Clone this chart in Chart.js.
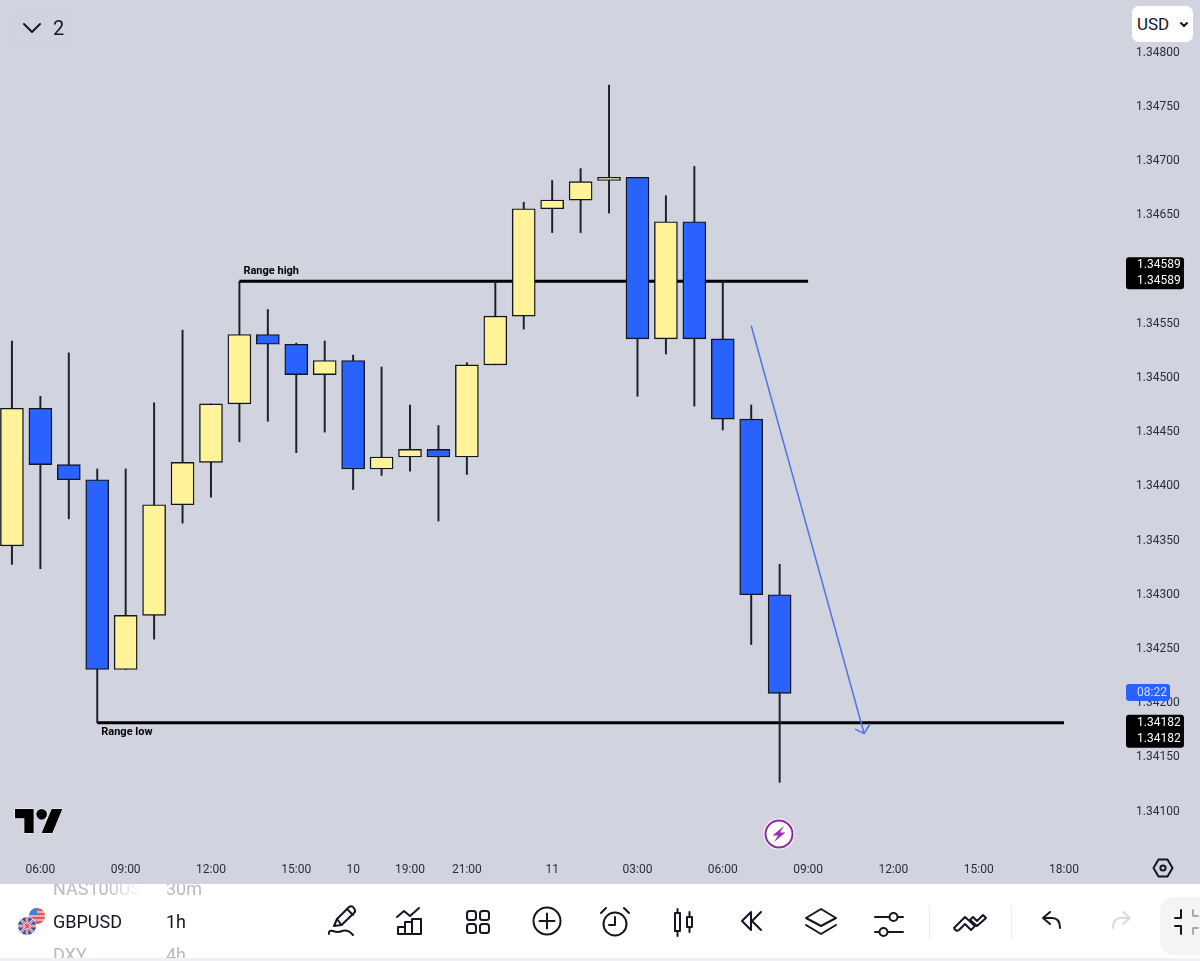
<!DOCTYPE html>
<html>
<head>
<meta charset="utf-8">
<title>GBPUSD 1h</title>
<script src="https://cdn.jsdelivr.net/npm/chart.js@4"></script>
<style>
  html, body { margin: 0; padding: 0; width: 1200px; height: 961px; overflow: hidden; background: #d1d4de; font-family: Roboto, sans-serif; color: #131722; }
  #chart { position: absolute; left: 0; top: 0; }
  .pill { position: absolute; box-sizing: border-box; }
  #interval-pill { left: 10px; top: 10px; width: 60px; height: 36px; border: 1px solid #cdd0da; border-radius: 5px; font-size: 20px; line-height: 34px; }
  #interval-pill span { position: absolute; left: 42px; }
  #currency-pill { left: 1132px; top: 6px; width: 61px; height: 36px; background: #fff; border-radius: 7px; font-size: 17px; line-height: 36px; padding-left: 5px; }
  #toolbar { position: absolute; left: 0; top: 884px; width: 1200px; height: 74px; background: #fff; overflow: hidden; }
  #strip { position: absolute; left: 0; top: 958px; width: 1200px; height: 3px; background: #eff0f3; }
  .row { position: absolute; font-size: 18px; line-height: 22px; white-space: nowrap; }
  .dim { color: #b9babf; }
  .fade { width: 88px; overflow: hidden; -webkit-mask-image: linear-gradient(to right, #000 60%, transparent 100%); mask-image: linear-gradient(to right, #000 60%, transparent 100%); }
  svg { position: absolute; overflow: visible; }
  .ico { fill: none; stroke: #131722; stroke-width: 2; stroke-linecap: round; stroke-linejoin: round; }
  .sep { position: absolute; top: 21px; width: 1px; height: 34px; background: #eceded; }
  #full-pill { position: absolute; left: 1160px; top: 13px; width: 60px; height: 58px; background: #f4f4f5; border-radius: 14px; }
</style>
</head>
<body>
<canvas id="chart" width="1200" height="884"></canvas>

<div id="interval-pill" class="pill">
  <svg style="left:11px;top:11px" width="20" height="12"><path class="ico" stroke-width="2.4" d="M2 2 L10 10 L18 2"/></svg>
  <span>2</span>
</div>
<div id="currency-pill" class="pill">USD
  <svg style="left:48px;top:16px" width="8" height="5"><path class="ico" d="M1 1 L4 4 L7 1"/></svg>
</div>

<svg style="left:15px;top:809px" width="48" height="24" viewBox="0 4 36 18">
  <g fill="#000" stroke="#fff" stroke-width="0.7" paint-order="stroke">
    <path d="M14 22H7V11H0V4h14v18z"/>
    <path d="M28 22h-8l7.5-18h8L28 22z"/>
    <circle cx="20" cy="8" r="4"/>
  </g>
</svg>

<svg style="left:763px;top:818px" width="32" height="32">
  <circle cx="16" cy="16" r="15.5" fill="#fff"/>
  <circle cx="16" cy="16" r="13.5" fill="#fff" stroke="#8e2a9c" stroke-width="2"/>
  <path d="M21 8 L9.5 17.5 L15 17.5 L11 24 L22.5 14.5 L17 14.5 Z" fill="#9c2fb0"/>
</svg>

<svg style="left:1153px;top:858px" width="20" height="20"><path class="ico" stroke-width="1.6" d="M5.5 1.5 H14.5 L19.5 10 L14.5 18.5 H5.5 L0.5 10 Z"/><circle class="ico" stroke-width="1.6" cx="10" cy="10" r="2.6"/></svg>

<div id="toolbar">
  <div class="row dim fade" style="left:53px;top:-6px">NAS100USD</div>
  <div class="row dim" style="left:166px;top:-6px">30m</div>
  <div class="row" style="left:53px;top:27px">GBPUSD</div>
  <div class="row" style="left:166px;top:27px">1h</div>
  <div class="row dim" style="left:53px;top:60px">DXY</div>
  <div class="row dim" style="left:166px;top:60px">4h</div>

  <svg style="left:17px;top:23px" width="30" height="30">
    <circle cx="20" cy="9" r="8" fill="#e8525a"/>
    <path d="M12 9 H28 M13 5 H27 M13 13 H27" stroke="#fff" stroke-width="1.2"/>
    <path d="M20 1 A8 8 0 0 0 12.2 8 L20 8 Z" fill="#3f7fe0"/>
    <circle cx="10" cy="19" r="9.5" fill="#fff"/>
    <circle cx="10" cy="19" r="9" fill="#33549e"/>
    <path d="M3.6 12.6 L16.4 25.4 M16.4 12.6 L3.6 25.4 M10 10 V28 M1 19 H19" stroke="#fff" stroke-width="2.4"/>
    <path d="M3.6 12.6 L16.4 25.4 M16.4 12.6 L3.6 25.4 M10 10 V28 M1 19 H19" stroke="#dd4d5a" stroke-width="1.1"/>
  </svg>

  <svg style="left:328px;top:20px" width="30" height="36"><g class="ico">
    <path d="M6 22 L9 15 L21 3 Q23 1.5 25 3 L26.5 5 Q28 7 26 9 L13.5 21 Z"/><path d="M19 5 L25 11"/><path d="M9 15 L13.5 21"/>
    <path d="M1 30 Q0 26 5 27 Q10 29 14 27 Q20 25 25 31"/></g></svg>
  <svg style="left:396px;top:24px" width="28" height="28"><g class="ico">
    <path d="M1 9 L8 3 L14 8 L23 0"/><path d="M2 26 V19 H9 V26 Z M9 26 V14 H16 V26 Z M16 26 V11 H25 V26 Z"/></g></svg>
  <svg style="left:466px;top:26px" width="24" height="24"><g class="ico" stroke-width="2.2">
    <rect x="1" y="1" width="9" height="9" rx="2.5"/><rect x="14" y="1" width="9" height="9" rx="2.5"/><rect x="1" y="14" width="9" height="9" rx="2.5"/><rect x="14" y="14" width="9" height="9" rx="2.5"/></g></svg>
  <svg style="left:533px;top:23px" width="28" height="28"><g class="ico">
    <circle cx="14" cy="14" r="13.5"/><path d="M14 6.5 V21.5 M6.5 14 H21.5"/></g></svg>
  <svg style="left:600px;top:23px" width="30" height="30"><g class="ico">
    <circle cx="15" cy="17" r="11.5"/><path d="M15 10 V18 H9"/><path d="M1 6 L6 1 M29 6 L24 1"/></g></svg>
  <svg style="left:674px;top:24px" width="22" height="30"><g class="ico">
    <rect x="1" y="5" width="5" height="18"/><path d="M3.5 1 V5 M3.5 23 V28"/><rect x="13" y="9" width="5" height="10"/><path d="M15.5 4 V9 M15.5 19 V24"/></g></svg>
  <svg style="left:741px;top:27px" width="22" height="20"><g class="ico">
    <path d="M10 1 L1 10 L10 19 Z"/><path d="M20 1 L11 10 L20 19"/></g></svg>
  <svg style="left:805px;top:24px" width="32" height="28"><g class="ico">
    <path d="M16 1 L31 10 L16 18 L1 10 Z"/><path d="M1 17 L16 26 L31 17"/></g></svg>
  <svg style="left:874px;top:26px" width="30" height="26"><g class="ico">
    <path d="M1 7 H15 M24 7 H29 M1 22 H5 M14 22 H29"/><circle cx="19.5" cy="7" r="4"/><circle cx="9.5" cy="22" r="4"/></g></svg>
  <div class="sep" style="left:929px"></div>
  <svg style="left:953px;top:27px" width="34" height="22"><g class="ico">
    <path d="M1 17 L12 6 L22 15 L18 19 L12 13 L6 19 Q3 21 1 17 Z"/><path d="M20 6 L24 10 L30 4 L33 7 L24 15 L17 9 Z" /></g></svg>
  <div class="sep" style="left:1011px"></div>
  <svg style="left:1042px;top:27px" width="20" height="20"><path class="ico" d="M8 1 L1 7 L8 13 M1 7 H10 Q18 7 18 17"/></svg>
  <svg style="left:1112px;top:27px" width="20" height="20"><path class="ico" style="stroke:#d9dadd" d="M11 1 L18 7 L11 13 M18 7 H9 Q1 7 1 17"/></svg>
  <div id="full-pill"></div>
  <svg style="left:1174px;top:24px" width="26" height="28"><g class="ico" stroke-width="1.8">
    <path d="M1 10 H7 V2 M1 18 H7 V26"/><path style="stroke:#aaa" d="M19 2 V8 H24 M19 26 V20 H24"/></g></svg>
</div>
<div id="strip"></div>

<script>
  // candles, one per hour slot
  var opens = [1.34345, 1.34472, 1.34420, 1.34406, 1.34231, 1.34281, 1.34383, 1.34422, 1.34476, 1.34540, 1.34531, 1.34503, 1.34516, 1.34416, 1.34427, 1.34434, 1.34427, 1.34512, 1.34557, 1.34656, 1.34664, 1.34682, 1.34685, 1.34536, 1.34644, 1.34536, 1.34462, 1.34300];
  var closes = [1.34472, 1.34420, 1.34406, 1.34231, 1.34281, 1.34383, 1.34422, 1.34476, 1.34540, 1.34531, 1.34503, 1.34516, 1.34416, 1.34427, 1.34434, 1.34427, 1.34512, 1.34557, 1.34656, 1.34664, 1.34681, 1.34685, 1.34536, 1.34644, 1.34536, 1.34462, 1.34300, 1.34209];
  var highs = [1.34534, 1.34483, 1.34523, 1.34416, 1.34416, 1.34477, 1.34544, 1.34476, 1.34589, 1.34563, 1.34532, 1.34534, 1.34521, 1.34510, 1.34475, 1.34456, 1.34514, 1.34589, 1.34662, 1.34682, 1.34693, 1.34770, 1.34685, 1.34668, 1.34695, 1.34589, 1.34475, 1.34328];
  var lows = [1.34328, 1.34324, 1.34370, 1.34182, 1.34231, 1.34259, 1.34366, 1.34390, 1.34441, 1.34460, 1.34431, 1.34450, 1.34397, 1.34410, 1.34414, 1.34368, 1.34411, 1.34512, 1.34545, 1.34634, 1.34634, 1.34652, 1.34483, 1.34522, 1.34474, 1.34452, 1.34254, 1.34127];

  var timeSlots = [1, 4, 7, 10, 12, 14, 16, 19, 22, 25, 28, 31, 34, 37];
  var timeLabels = ["06:00", "09:00", "12:00", "15:00", "10", "19:00", "21:00", "11", "03:00", "06:00", "09:00", "12:00", "15:00", "18:00"];
  var priceTicks = [1.348, 1.3475, 1.347, 1.3465, 1.346, 1.3455, 1.345, 1.3445, 1.344, 1.3435, 1.343, 1.3425, 1.342, 1.3415, 1.341];

  var rangeHigh = 1.34589;
  var rangeHighSlots = [8, 28];
  var rangeLow = 1.34182;
  var rangeLowSlots = [3, 37];
  var arrowSlots = [26.0, 29.97];
  var arrowPrices = [1.34548, 1.34172];
  var arrowHeadSlots = [29.65, 29.97, 30.18];
  var arrowHeadPrices = [1.34176, 1.34172, 1.34181];
  var countdown = "08:22";

  var YELLOW = "#fff39a";
  var BLUE = "#2962ff";

  function isUp(i) {
    return closes[i] >= opens[i];
  }

  var wickData = highs.map(function (high, i) {
    return { x: i, y: [lows[i], high] };
  });

  var bodyData = opens.map(function (open, i) {
    return { x: i, y: [Math.min(open, closes[i]), Math.max(open, closes[i])] };
  });

  function lineData(xs, ys) {
    return xs.map(function (x, i) {
      return { x: x, y: ys[i] };
    });
  }

  function lineDataset(points, color, width, order) {
    return {
      type: "line",
      data: points,
      borderColor: color,
      borderWidth: width,
      pointRadius: 0,
      fill: false,
      tension: 0,
      order: order,
    };
  }

  function drawTag(ctx, x, y, w, h, color) {
    ctx.fillStyle = color;
    ctx.beginPath();
    ctx.roundRect(x, y, w, h, 3);
    ctx.fill();
  }

  var overlayPlugin = {
    id: "overlay",
    afterDraw: function (chart) {
      var ctx = chart.ctx;
      var xs = chart.scales.x;
      var ys = chart.scales.y;
      var hiY = ys.getPixelForValue(rangeHigh);
      var loY = ys.getPixelForValue(rangeLow);

      ctx.save();
      ctx.textBaseline = "middle";

      ctx.fillStyle = "#000";
      ctx.font = "bold 11px Roboto";
      ctx.fillText("Range high", xs.getPixelForValue(rangeHighSlots[0]) + 4, hiY - 10);
      ctx.fillText("Range low", xs.getPixelForValue(rangeLowSlots[0]) + 4, loY + 10);

      drawTag(ctx, 1126, hiY - 24, 58, 32, "#000");
      drawTag(ctx, 1126, loY - 8, 58, 33, "#000");
      drawTag(ctx, 1126, 684, 44, 17, BLUE);

      ctx.font = "12px Roboto";
      ctx.fillStyle = "#fff";
      ctx.fillText(rangeHigh.toFixed(5), 1137, hiY - 16);
      ctx.fillText(rangeHigh.toFixed(5), 1137, hiY);
      ctx.fillText(rangeLow.toFixed(5), 1137, loY);
      ctx.fillText(rangeLow.toFixed(5), 1137, loY + 16);

      ctx.fillStyle = "#cfdcff";
      ctx.fillText(countdown, 1137, 693);
      ctx.restore();
    },
  };

  new Chart(document.getElementById("chart"), {
    type: "bar",
    data: {
      datasets: [
        lineDataset(lineData(rangeHighSlots, [rangeHigh, rangeHigh]), "#000", 3, 5),
        lineDataset(lineData(rangeLowSlots, [rangeLow, rangeLow]), "#000", 3, 5),
        {
          type: "bar",
          data: wickData,
          backgroundColor: "#1c1f2a",
          barThickness: 1.3,
          grouped: false,
          order: 4,
        },
        {
          type: "bar",
          data: bodyData,
          backgroundColor: function (c) {
            return isUp(c.dataIndex) ? YELLOW : BLUE;
          },
          borderColor: "#14161f",
          borderWidth: 1.4,
          borderSkipped: false,
          barThickness: 23,
          grouped: false,
          order: 3,
        },
        lineDataset(lineData(arrowSlots, arrowPrices), "#4f74e3", 1.5, 1),
        lineDataset(lineData(arrowHeadSlots, arrowHeadPrices), "#4f74e3", 1.5, 1),
      ],
    },
    options: {
      responsive: false,
      animation: false,
      layout: { padding: 0 },
      plugins: {
        legend: { display: false },
        tooltip: { enabled: false },
      },
      scales: {
        x: {
          type: "linear",
          bounds: "data",
          offset: false,
          min: -0.42,
          max: 38.97,
          grid: { display: false },
          border: { display: false },
          afterBuildTicks: function (scale) {
            scale.ticks = timeSlots.map(function (slot) {
              return { value: slot };
            });
          },
          afterFit: function (scale) {
            scale.height = 31;
            scale.paddingLeft = 0;
            scale.paddingRight = 0;
          },
          ticks: {
            autoSkip: false,
            maxRotation: 0,
            padding: 2,
            color: "#2a2e39",
            font: { family: "Roboto", size: 12 },
            callback: function (value) {
              return timeLabels[timeSlots.indexOf(value)];
            },
          },
        },
        y: {
          position: "right",
          bounds: "data",
          min: 1.340618,
          max: 1.348485,
          grid: { display: false },
          border: { display: false },
          afterBuildTicks: function (scale) {
            scale.ticks = priceTicks.map(function (price) {
              return { value: price };
            });
          },
          afterFit: function (scale) {
            scale.width = 80;
            scale.paddingTop = 0;
            scale.paddingBottom = 0;
          },
          ticks: {
            autoSkip: false,
            padding: 8,
            color: "#2a2e39",
            font: { family: "Roboto", size: 12 },
            callback: function (value) {
              return value.toFixed(5);
            },
          },
        },
      },
    },
    plugins: [overlayPlugin],
  });
</script>
</body>
</html>
